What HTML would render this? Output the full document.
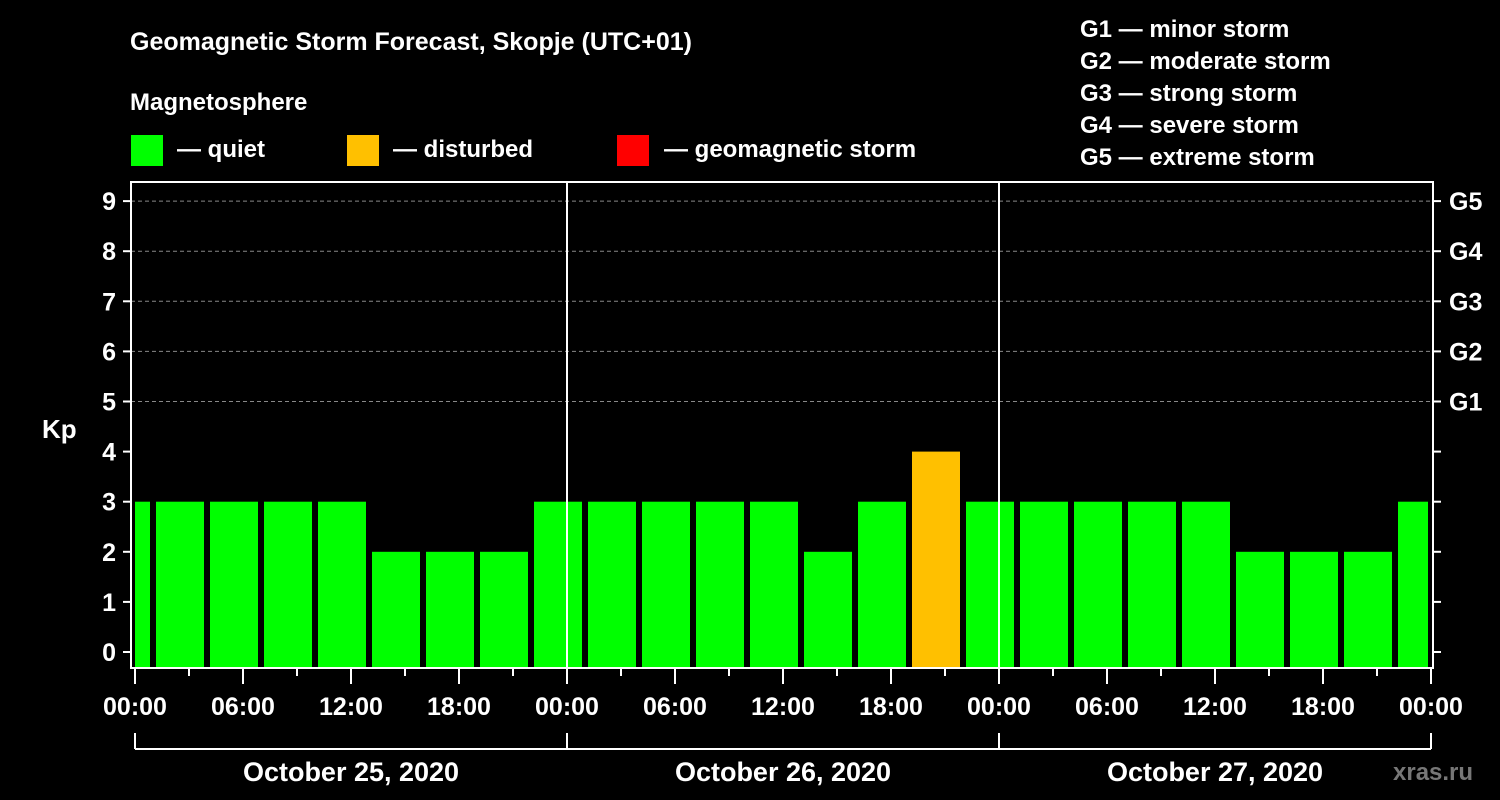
<!DOCTYPE html>
<html><head><meta charset="utf-8"><style>
html,body{margin:0;padding:0;background:#000;}
svg{display:block;font-family:"Liberation Sans",sans-serif;font-weight:bold;}
</style></head><body>
<svg id="chart" width="1500" height="800" viewBox="0 0 1500 800">
<rect x="0" y="0" width="1500" height="800" fill="#000"/>
<text x="130" y="50" fill="#fff" font-size="25">Geomagnetic Storm Forecast, Skopje (UTC+01)</text>
<text x="130" y="110" fill="#fff" font-size="24">Magnetosphere</text>
<g><rect x="131" y="135" width="32" height="31" fill="#00ff00"/><text x="177" y="157" fill="#fff" font-size="24">— quiet</text></g>
<g><rect x="347" y="135" width="32" height="31" fill="#ffc000"/><text x="393" y="157" fill="#fff" font-size="24">— disturbed</text></g>
<g><rect x="617" y="135" width="32" height="31" fill="#ff0000"/><text x="664" y="157" fill="#fff" font-size="24">— geomagnetic storm</text></g>
<g fill="#fff" font-size="24">
<text x="1080" y="37">G1 — minor storm</text>
<text x="1080" y="69">G2 — moderate storm</text>
<text x="1080" y="101">G3 — strong storm</text>
<text x="1080" y="133">G4 — severe storm</text>
<text x="1080" y="165">G5 — extreme storm</text>
</g>
<text x="42" y="438" fill="#fff" font-size="26">Kp</text>
<g id="plot"></g>
<text x="1393" y="780" fill="#777" font-size="24">xras.ru</text>
</svg>
<script>
const kpValues = [3,3,3,3,3,2,2,2,3,3,3,3,3,2,3,4,3,3,3,3,3,2,2,2,3];
const binStartHours = [-2,1,4,7,10,13,16,19,22,25,28,31,34,37,40,43,46,49,52,55,58,61,64,67,70];
const yTicks = [0,1,2,3,4,5,6,7,8,9];
const gLabels = ["G1","G2","G3","G4","G5"];
const gLevels = [5,6,7,8,9];
const xTickLabels = ["00:00","06:00","12:00","18:00","00:00","06:00","12:00","18:00","00:00","06:00","12:00","18:00","00:00"];
const dayLabels = ["October 25, 2020","October 26, 2020","October 27, 2020"];

const NS="http://www.w3.org/2000/svg";
const plot=document.getElementById('plot');
const L=131,R=1433,T=182,B=668;
const x=h=>135+h*18;
const y=v=>652-v*50.1;
function mk(tag,attrs,parent){const e=document.createElementNS(NS,tag);for(const k in attrs)e.setAttribute(k,attrs[k]);(parent||plot).appendChild(e);return e;}
function color(v){return v>=5?"#ff0000":v>=4?"#ffc000":"#00ff00";}

// grid lines
gLevels.forEach((v,i)=>{
  const l=mk('line',{x1:L,x2:R,y1:y(v),y2:y(v),stroke:'#888','stroke-width':1,'stroke-dasharray':'4,3'});
  
  
});
// bars
kpValues.forEach((v,i)=>{
  const s=binStartHours[i];
  let x0=x(s)+3,x1=x(s+3)-3;
  x0=Math.max(x0,x(0));x1=Math.min(x1,x(72)-3);
  if(x1<=x0)return;
  const r=mk('rect',{x:x0,y:y(v),width:x1-x0,height:B-y(v),fill:color(v)});
  
  
});
// day separators
[24,48].forEach(h=>{
  const l=mk('line',{x1:x(h),x2:x(h),y1:T,y2:B,stroke:'#fff','stroke-width':2});
  
  
});
// frame
const fr=mk('rect',{x:L,y:T,width:R-L,height:B-T,fill:'none',stroke:'#fff','stroke-width':2});


// y ticks
yTicks.forEach(v=>{
  mk('line',{x1:L-8,x2:L,y1:y(v),y2:y(v),stroke:'#fff','stroke-width':2});
  mk('line',{x1:R,x2:R+8,y1:y(v),y2:y(v),stroke:'#fff','stroke-width':2});
  const t=mk('text',{x:116,y:y(v)+9,fill:'#fff','font-size':25,'text-anchor':'end'});
  t.textContent=v;
  
  
});
gLevels.forEach((v,i)=>{
  const t=mk('text',{x:1449,y:y(v)+9,fill:'#fff','font-size':25});
  t.textContent=gLabels[i];
  
  
});
// x ticks
for(let h=0;h<=72;h+=3){
  const major=h%6===0;
  mk('line',{x1:x(h),x2:x(h),y1:B,y2:B+(major?16:8),stroke:'#fff','stroke-width':2});
}
xTickLabels.forEach((s,i)=>{
  const t=mk('text',{x:x(i*6),y:715,fill:'#fff','font-size':25,'text-anchor':'middle'});
  t.textContent=s;
  
  
});
// day brackets
mk('line',{x1:x(0),x2:x(72),y1:749,y2:749,stroke:'#fff','stroke-width':2});
[0,24,48,72].forEach(h=>mk('line',{x1:x(h),x2:x(h),y1:733,y2:749,stroke:'#fff','stroke-width':2}));
dayLabels.forEach((s,i)=>{
  const t=mk('text',{x:x(i*24+12),y:781,fill:'#fff','font-size':27,'text-anchor':'middle'});
  t.textContent=s;
  
  
});
</script>
</body></html>
